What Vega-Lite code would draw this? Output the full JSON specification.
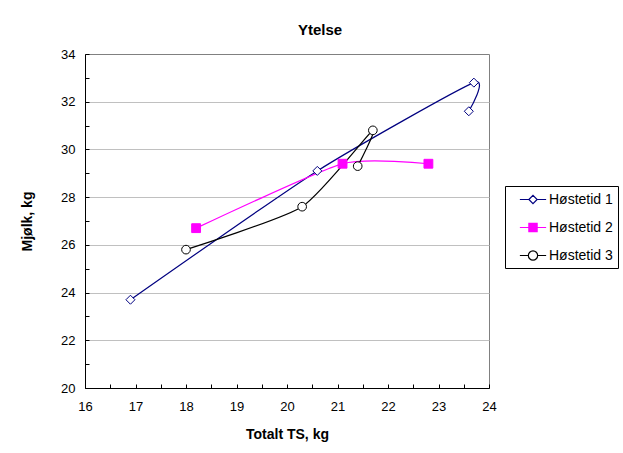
{
  "$schema": "https://vega.github.io/schema/vega-lite/v6.json",
  "width": 404,
  "height": 334,
  "autosize": {"type": "none"},
  "padding": {"left": 85, "top": 54, "right": 134, "bottom": 65},
  "background": "white",
  "config": {
    "font": "Liberation Sans",
    "view": {"stroke": "#808080", "strokeWidth": 1}
  },
  "title": {
    "text": "Ytelse",
    "fontSize": 15,
    "fontWeight": "bold",
    "color": "black",
    "anchor": "middle",
    "dx": 33,
    "offset": -2,
    "baseline": "alphabetic"
  },
  "data": {
    "values": [
      {"serie": "Høstetid 1", "ts": 16.9, "mjolk": 23.7, "ord": 1},
      {"serie": "Høstetid 1", "ts": 20.6, "mjolk": 29.1, "ord": 2},
      {"serie": "Høstetid 1", "ts": 23.7, "mjolk": 32.8, "ord": 3},
      {"serie": "Høstetid 1", "ts": 23.6, "mjolk": 31.6, "ord": 4},
      {"serie": "Høstetid 2", "ts": 18.2, "mjolk": 26.7, "ord": 1},
      {"serie": "Høstetid 2", "ts": 21.1, "mjolk": 29.4, "ord": 2},
      {"serie": "Høstetid 2", "ts": 22.8, "mjolk": 29.4, "ord": 3},
      {"serie": "Høstetid 3", "ts": 18.0, "mjolk": 25.8, "ord": 1},
      {"serie": "Høstetid 3", "ts": 20.3, "mjolk": 27.6, "ord": 2},
      {"serie": "Høstetid 3", "ts": 21.7, "mjolk": 30.8, "ord": 3},
      {"serie": "Høstetid 3", "ts": 21.4, "mjolk": 29.3, "ord": 4}
    ]
  },
  "encoding": {
    "x": {
      "field": "ts",
      "type": "quantitative",
      "scale": {"domain": [16, 24], "nice": false, "zero": false},
      "axis": {
        "title": "Totalt TS, kg",
        "titleFontSize": 14,
        "titleFontWeight": "bold",
        "titleColor": "black",
        "titlePadding": 14,
        "values": [16, 16.5, 17, 17.5, 18, 18.5, 19, 19.5, 20, 20.5, 21, 21.5, 22, 22.5, 23, 23.5, 24],
        "format": ".0f",
        "labelExpr": "datum.value % 1 === 0 ? datum.label : ''",
        "labelFontSize": 13,
        "labelColor": "black",
        "labelPadding": 16,
        "labelFlush": false,
        "labelOverlap": false,
        "grid": false,
        "domainColor": "black",
        "tickColor": "black",
        "tickSize": -4
      }
    },
    "y": {
      "field": "mjolk",
      "type": "quantitative",
      "scale": {"domain": [20, 34], "nice": false, "zero": false},
      "axis": {
        "title": "Mjølk, kg",
        "titleFontSize": 14,
        "titleFontWeight": "bold",
        "titleColor": "black",
        "titlePadding": 26,
        "values": [20, 21, 22, 23, 24, 25, 26, 27, 28, 29, 30, 31, 32, 33, 34],
        "labelExpr": "datum.value % 2 === 0 ? datum.label : ''",
        "labelFontSize": 13,
        "labelColor": "black",
        "labelPadding": 14,
        "labelFlush": false,
        "labelOverlap": false,
        "grid": true,
        "gridColor": {"condition": {"test": "datum.value % 2 === 0 && datum.value > 20 && datum.value < 34", "value": "#c0c0c0"}, "value": "transparent"},
        "gridWidth": 1,
        "domainColor": "black",
        "tickColor": "black",
        "tickSize": -4
      }
    }
  },
  "layer": [
    {
      "mark": {"type": "line", "interpolate": "cardinal", "tension": 0.4, "strokeWidth": 1.2},
      "encoding": {
        "stroke": {
          "field": "serie",
          "type": "nominal",
          "scale": {"range": ["#000080", "#FF00FF", "#000000"]},
          "legend": {
            "title": null,
            "titleFontSize": 0,
            "titlePadding": 0,
            "orient": "none",
            "legendX": 420,
            "legendY": 132,
            "strokeColor": "black",
            "fillColor": "white",
            "padding": 5,
            "symbolSize": 225,
            "symbolStrokeWidth": 1.2,
            "symbolOffset": 14.5,
            "labelOffset": 7.5,
            "rowPadding": 12,
            "labelFontSize": 14,
            "labelColor": "black",
            "encoding": {
              "symbols": {
                "shape": {"value": {"expr": "datum.index === 0 ? 'M-1.75,0H-0.55M0.55,0H1.75M-0.55,0L0,-0.55L0.55,0L0,0.55Z' : datum.index === 1 ? 'M-1.75,0H1.75M-0.55,-0.55H0.55V0.55H-0.55Z' : 'M-1.75,0H-0.62M0.62,0H1.75M-0.62,0A0.62,0.62,0,1,0,0.62,0A0.62,0.62,0,1,0,-0.62,0Z'"}},
                "fill": {"value": {"expr": "datum.index === 1 ? '#FF00FF' : 'white'"}},
                "size": {"value": 225},
                "opacity": {"value": 1}
              }
            }
          }
        },
        "order": {"field": "ord", "type": "quantitative"}
      }
    },
    {
      "mark": {"type": "point", "filled": false, "strokeWidth": 1, "opacity": 1},
      "encoding": {
        "color": {
          "field": "serie",
          "type": "nominal",
          "scale": {"domain": ["Høstetid 1", "Høstetid 2", "Høstetid 3"], "range": ["#000080", "#FF00FF", "#000000"]},
          "legend": null
        },
        "fill": {
          "field": "serie",
          "type": "nominal",
          "scale": {"domain": ["Høstetid 1", "Høstetid 2", "Høstetid 3"], "range": ["white", "#FF00FF", "white"]},
          "legend": null
        },
        "shape": {
          "field": "serie",
          "type": "nominal",
          "scale": {"domain": ["Høstetid 1", "Høstetid 2", "Høstetid 3"], "range": ["diamond", "square", "circle"]},
          "legend": null
        },
        "size": {
          "field": "serie",
          "type": "ordinal",
          "scale": {"domain": ["Høstetid 1", "Høstetid 2", "Høstetid 3"], "range": [81, 75, 110]},
          "legend": null
        }
      }
    }
  ]
}
